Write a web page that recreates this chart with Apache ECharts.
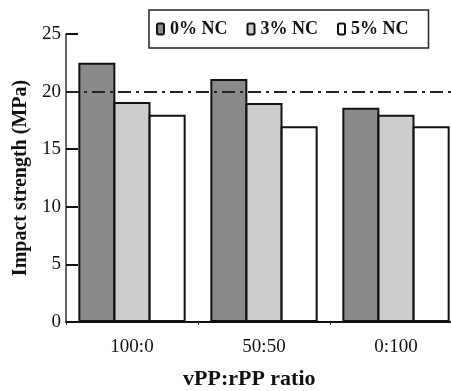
<!DOCTYPE html>
<html><head><meta charset="utf-8">
<script src="https://cdn.jsdelivr.net/npm/echarts@6/dist/echarts.min.js"></script>
<style>html,body{margin:0;padding:0;background:#fff;overflow:hidden;width:451px;height:391px}#c{width:463px;height:391px}</style>
</head><body><div id="c"></div>
<script>
const categories = ['100:0', '50:50', '0:100'];
const seriesNames = ['0% NC', '3% NC', '5% NC'];
const nc0 = [22.5, 21.1, 18.6];
const nc3 = [19.1, 19.0, 18.0];
const nc5 = [18.0, 17.0, 17.0];
const refValue = 20;
const yTicks = [0, 5, 10, 15, 20, 25];

const colors = ['#8a8a8a', '#cdcdcd', '#ffffff'];
const values = [nc0, nc3, nc5];
const serif = 'Liberation Serif';

const chart = echarts.init(document.getElementById('c'), null, {renderer: 'canvas'});
chart.setOption({
  animation: false,
  backgroundColor: '#fff',
  grid: {left: 66, top: 34, width: 396, height: 288, containLabel: false},
  legend: {
    data: seriesNames,
    left: 149, top: 10,
    orient: 'horizontal',
    borderColor: '#222', borderWidth: 1.5, borderRadius: 0,
    padding: [10, 20, 10, 7],
    itemWidth: 7, itemHeight: 11, itemGap: 19,
    icon: 'roundRect',
    textStyle: {fontFamily: serif, fontWeight: 'bold', fontSize: 18, color: '#111', padding: [0, 0, 0, 1]}
  },
  xAxis: {
    type: 'category', data: categories,
    axisLine: {lineStyle: {color: '#111', width: 2}},
    axisTick: {show: true, length: 3, lineStyle: {color: '#333'}},
    axisLabel: {fontFamily: serif, fontSize: 19, color: '#111', margin: 16}
  },
  yAxis: {
    type: 'value', min: 0, max: 25, interval: 5,
    axisLine: {show: true, lineStyle: {color: '#333', width: 1.5}},
    axisTick: {show: true, inside: true, length: 12, lineStyle: {color: '#111', width: 2}},
    axisLabel: {fontFamily: serif, fontSize: 19, color: '#111', margin: 5,
      formatter: v => yTicks.includes(v) ? String(v) : ''},
    splitLine: {show: false},
    name: 'Impact strength (MPa)', nameLocation: 'middle', nameGap: 34,
    nameTextStyle: {fontFamily: serif, fontWeight: 'bold', fontSize: 20, color: '#111'}
  },
  graphic: [{
    type: 'text', left: 183, top: 368,
    style: {text: 'vPP:rPP ratio', font: 'bold 22px "Liberation Serif"', fill: '#111'}
  }],
  series: [
    {
      type: 'line', data: [], z: 1, silent: true,
      markLine: {
        symbol: 'none', silent: true, label: {show: false},
        lineStyle: {color: '#222', width: 2, type: [13, 5, 3, 5]},
        data: [{yAxis: refValue}]
      }
    }
  ].concat(seriesNames.map((n, i) => ({
    name: n, type: 'bar', data: values[i], z: 3,
    barWidth: 37, barGap: '-5%',
    itemStyle: {color: colors[i], borderColor: '#111', borderWidth: 2}
  })))
});
</script></body></html>
